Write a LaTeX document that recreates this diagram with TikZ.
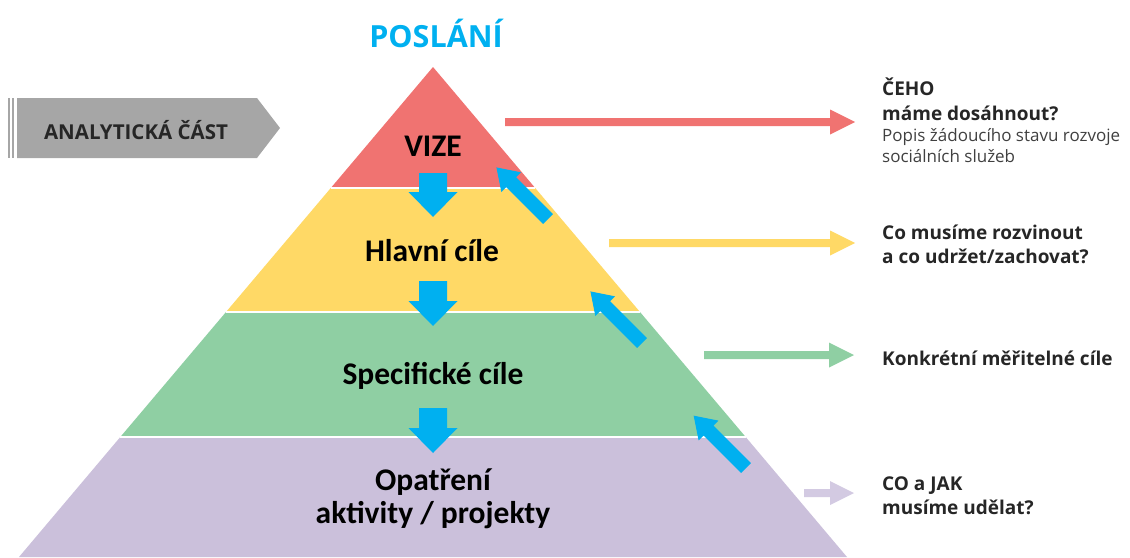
\documentclass[tikz,border=0pt]{standalone}
\usepackage{fontspec}
\setmainfont{Open Sans}
\newfontfamily\calfont{Carlito}
\newfontfamily\osfont{Open Sans}
\usetikzlibrary{shadows}
\definecolor{cred}{HTML}{F07371}
\definecolor{cyel}{HTML}{FFD966}
\definecolor{cgrn}{HTML}{8FCFA3}
\definecolor{cpur}{HTML}{CBC0DB}
\definecolor{cpurA}{HTML}{D3CAE2}
\definecolor{cblue}{HTML}{00B0F0}
\definecolor{cgrey}{HTML}{A6A6A6}
\definecolor{tdark}{HTML}{262626}
\definecolor{tmid}{HTML}{404040}
\tikzset{
  pics/barrow/.style n args={4}{code={
    \path[pic actions] (0,-#2) -- ({#1-#4},-#2) -- ({#1-#4},-#3) -- (#1,0)
      -- ({#1-#4},#3) -- ({#1-#4},#2) -- (0,#2) -- cycle;}},
  bluearrow/.style={fill=cblue, drop shadow={opacity=0.35, shadow xshift=1.5pt, shadow yshift=-1.5pt}},
  layerlabel/.style={font=\calfont\bfseries\fontsize{31.5}{34}\selectfont, text=black, align=center, inner sep=0pt},
  sidebold/.style={font=\osfont\bfseries\fontsize{19}{24}\selectfont, text=tdark, anchor=base west, inner sep=0pt},
  sidereg/.style={font=\osfont\fontsize{17}{21}\selectfont, text=tmid, anchor=base west, inner sep=0pt},
  sep/.style={draw=white, line width=1.5pt}
}
\begin{document}
\begin{tikzpicture}[x=1pt,y=-1pt]
\useasboundingbox (0,0) rectangle (1130,557);
% pyramid layers (apex 433,67; half-width = 0.845*(y-67))
\fill[cred] (433,67) -- (535.2,188) -- (330.8,188) -- cycle;
\fill[cyel] (330.8,188) -- (535.2,188) -- (640,312) -- (226,312) -- cycle;
\fill[cgrn] (226,312) -- (640,312) -- (745.7,437) -- (120.3,437) -- cycle;
\fill[cpur] (120.3,437) -- (745.7,437) -- (847,557) -- (19,557) -- cycle;
\draw[sep] (330.8,188) -- (535.2,188);
\draw[sep] (226,312) -- (640,312);
\draw[sep] (120.3,437) -- (745.7,437);
% title
\node[font=\osfont\bfseries\fontsize{30.5}{32}\selectfont, text=cblue, inner sep=0pt] (poslani) at (436,33) {POSLÁNÍ};
% banner
\fill[cgrey] (8,98) rectangle (10,158);
\fill[cgrey] (12,98) rectangle (14,158);
\fill[cgrey] (17,98) -- (257,98) -- (280,128) -- (257,158) -- (17,158) -- cycle;
\node[font=\osfont\bfseries\fontsize{20.5}{22}\selectfont, text=tdark, inner sep=0pt] (analyt) at (136,130) {ANALYTICKÁ ČÁST};
% layer labels
\node[layerlabel] (vize) at (433,146) {VIZE};
\node[layerlabel] (hlavni) at (432,251) {Hlavní cíle};
\node[layerlabel] (spec) at (433,376) {Specifické cíle};
\node[layerlabel, anchor=base] (opat) at (433,490) {Opatření};
\node[layerlabel, anchor=base] (akt) at (433,523) {aktivity / projekty};
% blue down arrows
\coordinate (d1) at (433,173);
\coordinate (d2) at (433,281);
\coordinate (d3) at (433,408);
\pic[bluearrow, rotate=-90] at (d1) {barrow={44}{14}{24.5}{25}};
\pic[bluearrow, rotate=-90] at (d2) {barrow={45}{14}{24.5}{25}};
\pic[bluearrow, rotate=-90] at (d3) {barrow={45}{14}{24.5}{25}};
% blue diagonal arrows (up-left)
\coordinate (u1) at (548,219);
\coordinate (u2) at (642,343);
\coordinate (u3) at (746,468);
\pic[bluearrow, rotate=135] at (u1) {barrow={73}{7}{14}{21}};
\pic[bluearrow, rotate=135] at (u2) {barrow={73}{7}{14}{21}};
\pic[bluearrow, rotate=135] at (u3) {barrow={74}{7}{14}{21}};
% right arrows
\coordinate (r1) at (505,122);
\coordinate (r2) at (609,243);
\coordinate (r3) at (704,355);
\coordinate (r4) at (804,493);
\pic[fill=cred] at (r1) {barrow={350}{4}{12.5}{25}};
\pic[fill=cyel] at (r2) {barrow={246}{4}{12.5}{25}};
\pic[fill=cgrn] at (r3) {barrow={150}{4}{12.5}{25}};
\pic[fill=cpurA] at (r4) {barrow={50}{4}{12}{24}};
% right texts
\node[sidebold] (t1a) at (882,95) {ČEHO};
\node[sidebold] (t1b) at (882,120) {máme dosáhnout?};
\node[sidereg] (t1c) at (882,141) {Popis žádoucího stavu rozvoje};
\node[sidereg] (t1d) at (882,162) {sociálních služeb};
\node[sidebold] (t2a) at (882,239) {Co musíme rozvinout};
\node[sidebold] (t2b) at (882,263) {a co udržet/zachovat?};
\node[sidebold] (t3) at (882,365) {Konkrétní měřitelné cíle};
\node[sidebold] (t4a) at (882,490) {CO a JAK};
\node[sidebold] (t4b) at (882,514) {musíme udělat?};
\end{tikzpicture}
\end{document}
